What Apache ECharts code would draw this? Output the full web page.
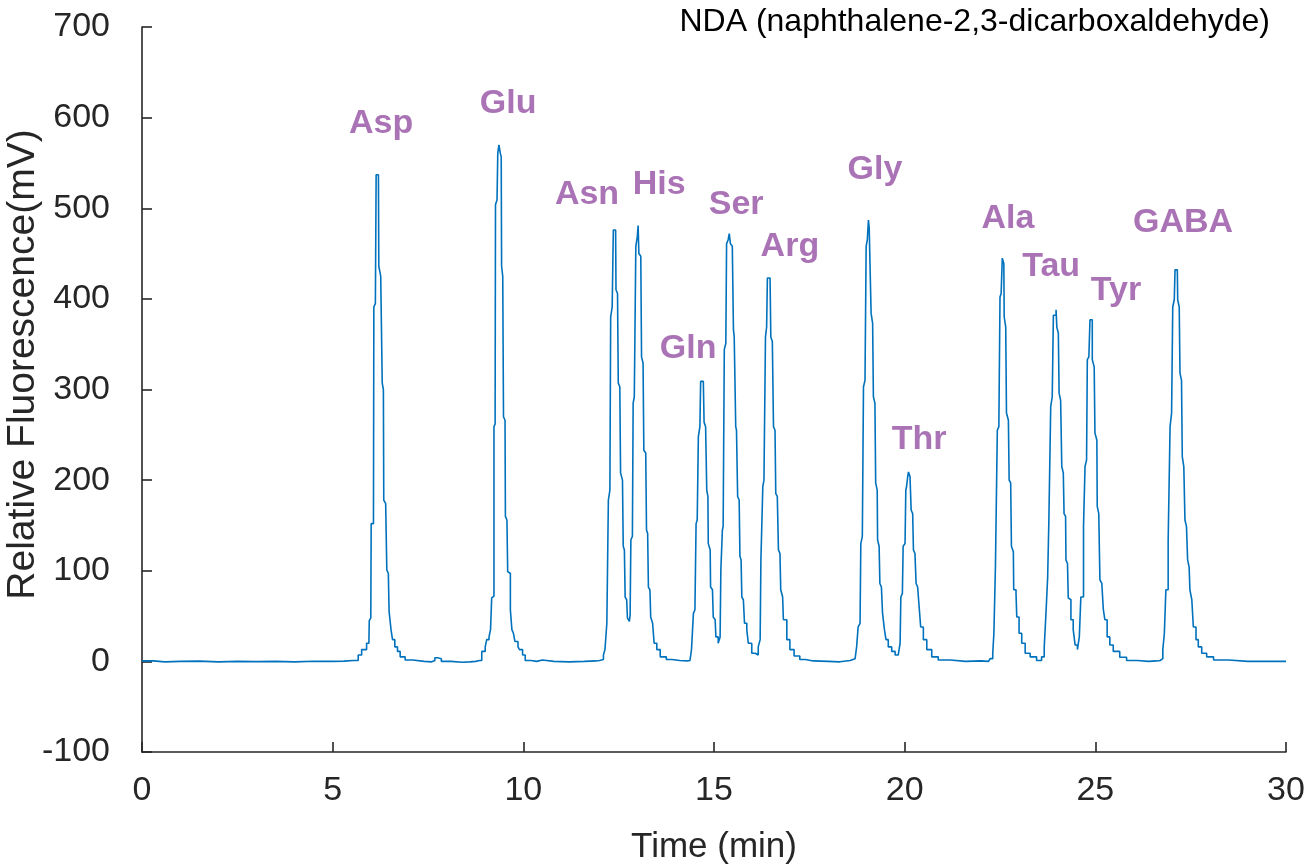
<!DOCTYPE html>
<html>
<head>
<meta charset="utf-8">
<script src="https://cdn.jsdelivr.net/npm/echarts@6/dist/echarts.min.js"></script>
<style>
  html, body { margin: 0; padding: 0; background: #fff; }
  #chart { width: 1309px; height: 867px; }
</style>
</head>
<body>
<div id="chart"></div>
<script>
// ---- Chromatogram trace, [time (min), fluorescence (mV)] ----
const baselineStart = [[0,0.5],[0.3,-0.5],[0.6,0],[1.0,0.3],[1.5,-0.5],[2.0,0],[2.5,-0.3],[3.0,0],[3.5,-0.5],[4.0,0.2],[4.5,0],[5.0,0.3],[5.3,1]];
const aspTrace = [[5.54,1],[5.67,7],[5.76,13],[5.89,20],[5.95,22],[5.96,45],[6.0,48],[6.01,152],[6.07,156],[6.08,391],[6.12,395],[6.14,537],[6.2,535],[6.21,436],[6.26,425],[6.3,307],[6.33,300],[6.34,178],[6.39,174],[6.42,101],[6.46,97],[6.48,55],[6.53,35],[6.57,24],[6.63,16],[6.7,11],[6.77,5],[6.9,1.5]];
const gapAspGlu = [[7.1,0],[7.4,-0.5],[7.6,1],[7.68,4],[7.75,3],[7.85,0],[8.1,-1],[8.4,-0.5],[8.6,0],[8.75,1]];
const gluTrace = [[8.85,1],[8.91,11],[9.0,16],[9.04,24],[9.1,27],[9.14,35],[9.17,70],[9.21,72],[9.23,259],[9.26,262],[9.27,504],[9.31,509],[9.33,561],[9.36,570],[9.4,560],[9.42,557],[9.43,436],[9.46,425],[9.48,270],[9.52,266],[9.53,160],[9.57,156],[9.59,99],[9.62,97],[9.66,57],[9.7,35],[9.74,31],[9.78,22],[9.86,16],[9.9,13],[9.98,7],[10.05,1]];
const gapGluAsn = [[10.2,0],[10.35,1.5],[10.5,0],[10.8,-0.5],[11.2,0],[11.6,0.5],[11.9,1]];
const asnHisTrace = [[12.0,2],[12.1,7],[12.14,13],[12.19,42],[12.23,178],[12.27,189],[12.29,380],[12.33,391],[12.36,476],[12.42,476],[12.43,410],[12.47,406],[12.49,307],[12.53,303],[12.55,208],[12.6,200],[12.62,127],[12.65,123],[12.67,71],[12.71,68],[12.73,48],[12.78,44],
  [12.8,51],[12.82,134],[12.86,138],[12.88,285],[12.91,292],[12.95,458],[12.99,469],[13.01,481],[13.03,450],[13.08,447],[13.1,336],[13.14,329],[13.16,233],[13.21,230],[13.23,145],[13.26,141],[13.28,82],[13.32,79],[13.34,49],[13.39,42],[13.43,20],[13.5,13],[13.59,5],[13.75,2],[13.9,1]];
const gapHisGln = [[14.1,0.5],[14.3,1]];
const glnSerArgTrace = [[14.37,2],[14.41,13],[14.46,53],[14.5,57],[14.53,152],[14.56,156],[14.59,248],[14.63,259],[14.65,309],[14.72,309],[14.74,264],[14.78,259],[14.81,189],[14.84,182],[14.85,130],[14.9,123],[14.91,82],[14.96,79],[14.98,49],[15.03,46],[15.05,27],[15.11,20],
  [15.16,27],[15.18,101],[15.22,145],[15.24,149],[15.27,344],[15.31,351],[15.33,461],[15.37,465],[15.4,472],[15.43,461],[15.48,458],[15.51,366],[15.53,358],[15.57,259],[15.59,255],[15.62,182],[15.66,178],[15.68,116],[15.71,112],[15.73,71],[15.77,68],[15.8,42],[15.86,35],[15.9,20],[15.99,9],[16.08,7],
  [16.16,16],[16.21,24],[16.23,112],[16.28,193],[16.31,200],[16.35,358],[16.38,369],[16.4,423],[16.47,421],[16.49,358],[16.53,353],[16.56,259],[16.6,255],[16.62,185],[16.66,182],[16.69,123],[16.73,119],[16.75,79],[16.8,71],[16.82,46],[16.91,24],[16.99,13],[17.1,6],[17.25,2],[17.4,0.5]];
const gapArgGly = [[17.6,0],[18.0,-0.5],[18.3,1]];
const glyThrTrace = [[18.57,3],[18.7,5],[18.74,16],[18.78,38],[18.83,42],[18.85,130],[18.89,138],[18.92,303],[18.96,310],[18.99,458],[19.02,465],[19.05,487],[19.07,478],[19.11,476],[19.12,384],[19.16,373],[19.18,292],[19.22,285],[19.24,197],[19.28,189],[19.29,134],[19.33,127],[19.35,86],[19.39,82],[19.42,53],[19.47,35],[19.51,24],[19.57,16],[19.66,11],[19.75,7],
  [19.83,9],[19.88,20],[19.9,71],[19.94,75],[19.96,127],[20.01,130],[20.03,189],[20.05,193],[20.08,204],[20.1,209],[20.14,204],[20.17,167],[20.21,163],[20.23,123],[20.27,119],[20.3,86],[20.34,82],[20.38,60],[20.42,38],[20.49,24],[20.58,13],[20.71,5],[20.88,1.5]];
const gapThrAla = [[21.2,0],[21.6,0.5],[22.0,0],[22.2,1]];
const alaTauTyrTrace = [[22.24,3],[22.31,9],[22.34,31],[22.38,104],[22.43,255],[22.47,259],[22.5,402],[22.53,406],[22.56,445],[22.6,439],[22.61,380],[22.65,369],[22.67,274],[22.72,266],[22.74,200],[22.78,197],[22.8,127],[22.85,121],[22.86,79],[22.92,75],[22.94,49],[23.0,31],[23.07,20],[23.16,9],[23.29,5],[23.46,1],
  [23.59,5],[23.66,16],[23.71,57],[23.75,93],[23.78,152],[23.83,281],[23.87,292],[23.9,382],[23.97,388],[23.99,369],[24.03,362],[24.05,296],[24.09,288],[24.12,215],[24.16,208],[24.18,163],[24.22,160],[24.23,112],[24.27,108],[24.29,70],[24.34,68],[24.36,46],[24.42,35],[24.47,18],[24.53,13],
  [24.58,27],[24.62,71],[24.69,149],[24.73,215],[24.77,222],[24.79,333],[24.83,336],[24.86,377],[24.9,377],[24.92,333],[24.97,325],[24.99,252],[25.04,244],[25.05,171],[25.09,163],[25.12,90],[25.17,86],[25.21,57],[25.25,46],[25.31,27],[25.38,18],[25.47,11],[25.64,4.5],[25.82,1]];
const gapTyrGaba = [[26.1,0],[26.4,0.5],[26.6,1]];
const gabaTrace = [[26.7,3],[26.77,13],[26.81,31],[26.85,79],[26.91,134],[26.96,259],[27.0,274],[27.03,391],[27.07,399],[27.09,432],[27.15,432],[27.16,399],[27.2,391],[27.22,318],[27.26,310],[27.28,226],[27.32,215],[27.35,156],[27.39,149],[27.42,112],[27.46,104],[27.48,79],[27.53,68],[27.57,38],[27.64,24],[27.7,16],[27.79,9],[27.92,5],[28.1,1.5]];
const baselineEnd = [[28.5,0],[29.0,0],[29.5,0],[30.0,0]];

// ---- Peak labels (name, time, level of label centre) ----
const peakNames = ['Asp','Glu','Asn','His','Gln','Ser','Arg','Gly','Thr','Ala','Tau','Tyr','GABA'];
const labelTime = [6.27, 9.6, 11.67, 13.56, 14.32, 15.58, 16.99, 19.22, 20.38, 22.71, 23.84, 25.54, 27.3];
const labelLevel = [593, 615, 515, 526, 345, 504, 458, 543, 245, 489, 436, 409, 484];

// ---- Axes ----
const xTicks = [0, 5, 10, 15, 20, 25, 30];
const yTicks = [-100, 0, 100, 200, 300, 400, 500, 600, 700];

const trace = [].concat(baselineStart, aspTrace, gapAspGlu, gluTrace, gapGluAsn, asnHisTrace,
  gapHisGln, glnSerArgTrace, gapArgGly, glyThrTrace, gapThrAla, alaTauTyrTrace, gapTyrGaba, gabaTrace, baselineEnd);
const labelData = peakNames.map((n, i) => ({ name: n, value: [labelTime[i], labelLevel[i]] }));

const FONT = "'Liberation Sans', Arial, Helvetica, sans-serif";
const AXIS_COLOR = '#262626';

const chart = echarts.init(document.getElementById('chart'), null, { renderer: 'canvas' });
chart.setOption({
  animation: false,
  backgroundColor: '#ffffff',
  title: {
    text: 'NDA (naphthalene-2,3-dicarboxaldehyde)',
    right: 39,
    top: 6,
    padding: 0,
    textStyle: { fontFamily: FONT, fontSize: 32, fontWeight: 'normal', color: '#000000' }
  },
  grid: { left: 142, right: 23, top: 27, bottom: 115, containLabel: false, outerBoundsMode: 'none' },
  xAxis: {
    type: 'value',
    min: xTicks[0],
    max: xTicks[xTicks.length - 1],
    interval: 5,
    name: 'Time (min)',
    nameLocation: 'middle',
    nameGap: 78,
    nameMoveOverlap: false,
    nameTextStyle: { fontFamily: FONT, fontSize: 35, color: AXIS_COLOR },
    axisLine: { show: true, onZero: false, lineStyle: { color: AXIS_COLOR, width: 1.6 } },
    axisTick: { show: true, inside: true, length: 10, lineStyle: { color: AXIS_COLOR, width: 1.6 } },
    axisLabel: { fontFamily: FONT, fontSize: 34, color: AXIS_COLOR, margin: 22 },
    splitLine: { show: false }
  },
  yAxis: {
    type: 'value',
    min: yTicks[0],
    max: yTicks[yTicks.length - 1],
    interval: 100,
    name: 'Relative Fluorescence(mV)',
    nameLocation: 'middle',
    nameGap: 99,
    nameMoveOverlap: false,
    nameTextStyle: { fontFamily: FONT, fontSize: 39, color: AXIS_COLOR, padding: [0, 0, 0, 50] },
    axisLine: { show: true, onZero: false, lineStyle: { color: AXIS_COLOR, width: 1.6 } },
    axisTick: { show: true, inside: true, length: 10, lineStyle: { color: AXIS_COLOR, width: 1.6 } },
    axisLabel: { fontFamily: FONT, fontSize: 34, color: AXIS_COLOR, margin: 32 },
    splitLine: { show: false }
  },
  series: [
    {
      type: 'line',
      data: trace,
      showSymbol: false,
      symbol: 'none',
      smooth: false,
      step: 'end',
      lineStyle: { color: '#0072bd', width: 1.6 },
      z: 2
    },
    {
      type: 'scatter',
      data: labelData,
      symbolSize: 1,
      itemStyle: { color: 'transparent' },
      label: {
        show: true,
        position: 'inside',
        formatter: p => p.name,
        fontFamily: FONT,
        fontSize: 34,
        fontWeight: 'bold',
        color: '#9550a2'
      },
      z: 3
    }
  ]
});
</script>
</body>
</html>
